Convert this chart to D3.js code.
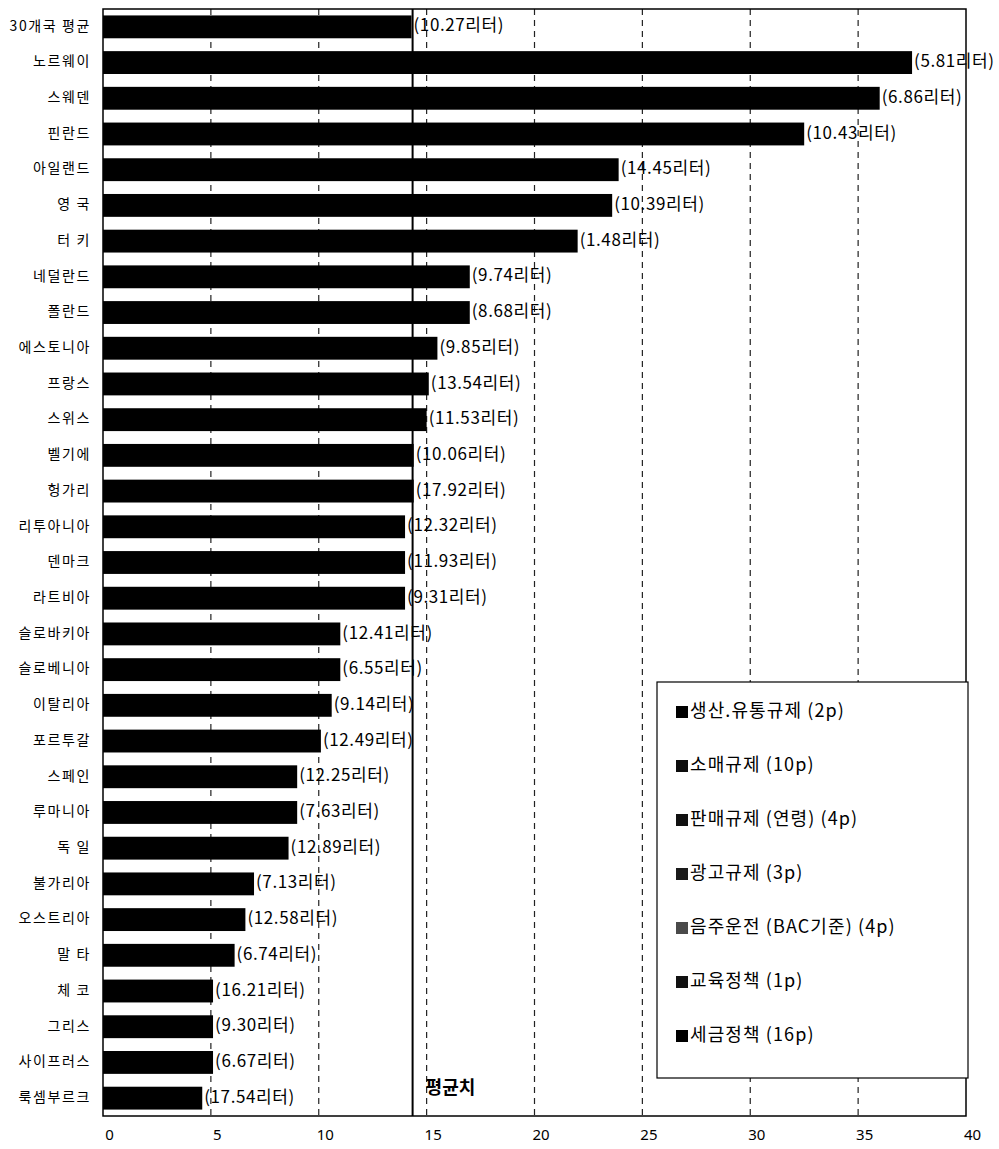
<!DOCTYPE html>
<html>
<head>
<meta charset="utf-8">
<script src="https://cdn.jsdelivr.net/npm/d3@7/dist/d3.min.js"></script>
<style>
  html, body { margin: 0; padding: 0; background: #fff; }
  svg { display: block; }
  text { font-family: "Noto Sans CJK KR", "Noto Sans", sans-serif; fill: #000; }
</style>
</head>
<body>
<svg id="chart" width="999" height="1149"></svg>
<script>
// ---- data ----
const countries = ["30개국 평균","노르웨이","스웨덴","핀란드","아일랜드","영 국","터 키","네덜란드","폴란드","에스토니아","프랑스","스위스","벨기에","헝가리","리투아니아","덴마크","라트비아","슬로바키아","슬로베니아","이탈리아","포르투갈","스페인","루마니아","독 일","불가리아","오스트리아","말 타","체 코","그리스","사이프러스","룩셈부르크"];
const scores = [14.3,37.5,36.0,32.5,23.9,23.6,22.0,17.0,17.0,15.5,15.1,15.0,14.4,14.4,14.0,14.0,14.0,11.0,11.0,10.6,10.1,9.0,9.0,8.6,7.0,6.6,6.1,5.1,5.1,5.1,4.6];
const liters = ["10.27","5.81","6.86","10.43","14.45","10.39","1.48","9.74","8.68","9.85","13.54","11.53","10.06","17.92","12.32","11.93","9.31","12.41","6.55","9.14","12.49","12.25","7.63","12.89","7.13","12.58","6.74","16.21","9.30","6.67","17.54"];
const averageValue = 14.35;
const averageLabel = "평균치";
const xTicks = [0,5,10,15,20,25,30,35,40];
const legendLabels = ["생산.유통규제 (2p)","소매규제 (10p)","판매규제 (연령) (4p)","광고규제 (3p)","음주운전 (BAC기준) (4p)","교육정책 (1p)","세금정책 (16p)"];
const legendColors = ["#000","#0d0d0d","#111","#1a1a1a","#4a4a4a","#111","#000"];

// ---- layout ----
const svg = d3.select("#chart");
const pLeft = 103, pRight = 966, pTop = 9, pBottom = 1116;

const x = d3.scaleLinear().domain([0, 40]).range([pLeft, pRight]);
const y = d3.scaleBand().domain(countries).range([pTop, pBottom]).paddingInner(0.36).paddingOuter(0.18);

// gridlines (dashed)
svg.append("g").selectAll("line").data(xTicks.filter(d => d > 0 && d < 40)).join("line")
  .attr("x1", d => x(d)).attr("x2", d => x(d))
  .attr("y1", pTop).attr("y2", pBottom)
  .attr("stroke", "#222").attr("stroke-width", 1.2)
  .attr("stroke-dasharray", "6,5");

// bars
svg.append("g").selectAll("rect").data(countries).join("rect")
  .attr("x", x(0))
  .attr("y", d => y(d))
  .attr("width", (d, i) => x(scores[i]) - x(0))
  .attr("height", y.bandwidth())
  .attr("fill", "#000");

// average line
svg.append("line")
  .attr("x1", x(averageValue)).attr("x2", x(averageValue))
  .attr("y1", pTop).attr("y2", pBottom)
  .attr("stroke", "#000").attr("stroke-width", 2);
svg.append("text")
  .attr("x", x(averageValue) + 13).attr("y", 1089)
  .attr("font-size", 18).attr("font-weight", "bold")
  .attr("dominant-baseline", "middle")
  .text(averageLabel);

// plot border
svg.append("rect")
  .attr("x", pLeft).attr("y", pTop)
  .attr("width", pRight - pLeft).attr("height", pBottom - pTop)
  .attr("fill", "none").attr("stroke", "#000").attr("stroke-width", 1.5);

// category labels
svg.append("g").selectAll("text").data(countries).join("text")
  .attr("x", 91)
  .attr("y", d => y(d) + y.bandwidth() / 2)
  .attr("text-anchor", "end")
  .attr("dominant-baseline", "middle")
  .attr("font-size", 14)
  .attr("letter-spacing", 1.6)
  .text(d => d);

// value labels
svg.append("g").selectAll("text").data(countries).join("text")
  .attr("x", (d, i) => x(scores[i]) + 2)
  .attr("y", d => y(d) + y.bandwidth() / 2)
  .attr("dominant-baseline", "middle")
  .attr("font-size", 17)
  .attr("letter-spacing", 0.6)
  .text((d, i) => "(" + liters[i] + "리터)");

// x axis labels
const axis = d3.axisBottom(x).tickValues(xTicks).tickSize(0).tickPadding(0);
const ag = svg.append("g").attr("transform", `translate(6, 1129)`).call(axis);
ag.select(".domain").remove();
ag.selectAll("text").attr("font-size", 15).attr("fill", "#000")
  .style("font-family", "'Liberation Sans Narrow', 'Noto Sans', sans-serif");

// legend
const lx = 657, ly = 682, lw = 311, lh = 396;
svg.append("rect").attr("x", lx).attr("y", ly).attr("width", lw).attr("height", lh)
  .attr("fill", "#fff").attr("stroke", "#000").attr("stroke-width", 1.2);
const li = svg.append("g").selectAll("g").data(legendLabels).join("g")
  .attr("transform", (d, i) => `translate(${lx + 19}, ${ly + 30 + i * 54})`);
li.append("rect").attr("x", 0).attr("y", -6).attr("width", 12).attr("height", 12)
  .attr("fill", (d, i) => legendColors[i]);
li.append("text").attr("x", 14).attr("y", 0)
  .attr("dominant-baseline", "middle").attr("font-size", 18)
  .attr("letter-spacing", 1.1)
  .text(d => d);
</script>
</body>
</html>
